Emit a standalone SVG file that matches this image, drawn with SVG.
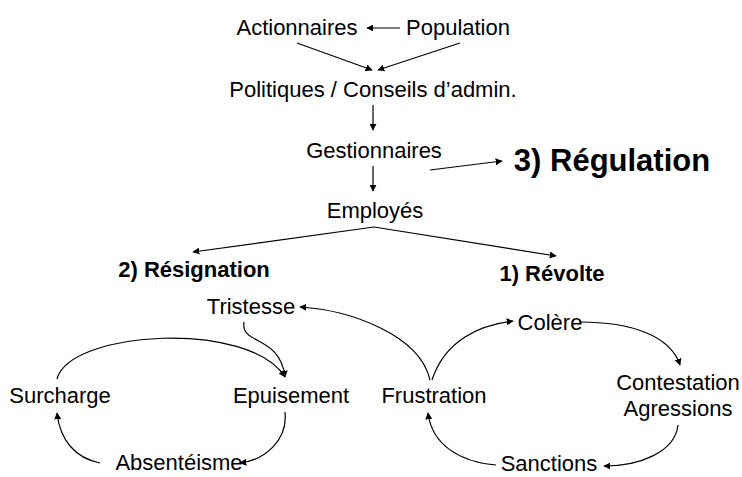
<svg xmlns="http://www.w3.org/2000/svg" width="742" height="477" viewBox="0 0 742 477">
<defs>
<marker id="ah" viewBox="0 0 10 10" refX="9" refY="5" markerWidth="7" markerHeight="7" markerUnits="userSpaceOnUse" orient="auto">
<path d="M0,0 L10,5 L0,10 z" fill="#000"/>
</marker>
<style>
text{font-family:"Liberation Sans",Arial,sans-serif;fill:#000;text-anchor:middle}
.n{font-size:22px}
.b{font-weight:bold;font-size:22px}
.r{font-weight:bold;font-size:31px}
.c{fill:none;stroke:#000;stroke-width:1.2;marker-end:url(#ah)}
</style>
</defs>
<rect width="742" height="477" fill="#fff"/>
<g id="connectors">
<path class="c" d="M400,28 L367,28"/>
<path class="c" d="M297,43 L372,70"/>
<path class="c" d="M460,43 L378,70"/>
<path class="c" d="M373,105 L373,130"/>
<path class="c" d="M373,166 L373,191"/>
<path class="c" d="M430,170 L502,161"/>
<path class="c" d="M374,227 L193,252"/>
<path class="c" d="M374,227 L556,256"/>
<path class="c" d="M57,379 C70,330 250,320 285,377"/>
<path class="c" d="M244,322 C240,345 280,335 285,377"/>
<path class="c" d="M285,412 C288,440 265,460 240,463"/>
<path class="c" d="M100,463 C75,458 60,440 57,413"/>
<path class="c" d="M430,380 C420,335 350,310 300,307"/>
<path class="c" d="M432,380 C445,340 480,325 513,321"/>
<path class="c" d="M580,322 C630,322 670,335 680,365"/>
<path class="c" d="M678,425 C675,452 640,466 604,466"/>
<path class="c" d="M496,465 C460,462 432,445 428,413"/>
</g>
<g id="n-actionnaires"><text class="n" x="297" y="35">Actionnaires</text></g>
<g id="n-population"><text class="n" x="458" y="35">Population</text></g>
<g id="n-politiques"><text class="n" x="373" y="97">Politiques / Conseils d’admin.</text></g>
<g id="n-gestionnaires"><text class="n" x="374" y="158">Gestionnaires</text></g>
<g id="n-regulation"><text class="r" x="612" y="171">3) Régulation</text></g>
<g id="n-employes"><text class="n" x="375" y="218">Employés</text></g>
<g id="n-resignation"><text class="b" x="194" y="277">2) Résignation</text></g>
<g id="n-revolte"><text class="b" x="552" y="281">1) Révolte</text></g>
<g id="n-tristesse"><text class="n" x="251" y="314">Tristesse</text></g>
<g id="n-colere"><text class="n" x="550" y="330">Colère</text></g>
<g id="n-surcharge"><text class="n" x="60" y="403">Surcharge</text></g>
<g id="n-epuisement"><text class="n" x="291" y="403">Epuisement</text></g>
<g id="n-frustration"><text class="n" x="434" y="403">Frustration</text></g>
<g id="n-contestation"><text class="n" x="678" y="390">Contestation</text><text class="n" x="678" y="416">Agressions</text></g>
<g id="n-absenteisme"><text class="n" x="179" y="470">Absentéisme</text></g>
<g id="n-sanctions"><text class="n" x="549" y="471">Sanctions</text></g>
</svg>
